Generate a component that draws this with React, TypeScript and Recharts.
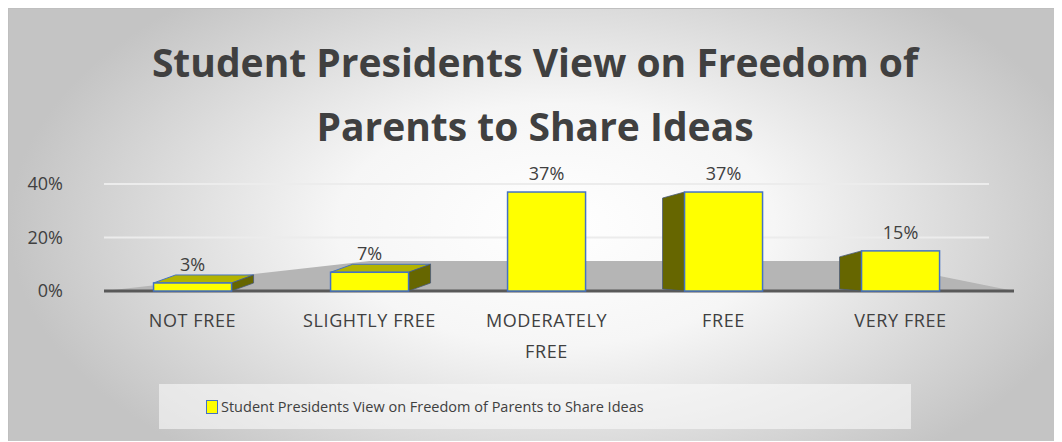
import React from 'react';
import { BarChart, Bar, XAxis, YAxis, CartesianGrid, LabelList, Legend, Customized, usePlotArea } from 'recharts';

const categories = ['NOT FREE', 'SLIGHTLY FREE', 'MODERATELY FREE', 'FREE', 'VERY FREE'];
const values = [3, 7, 37, 37, 15];
const yTicks = [0, 20, 40];
const seriesName = 'Student Presidents View on Freedom of Parents to Share Ideas';

const data = categories.map((name, i) => ({ name, value: values[i] }));

const TEXT = '#404040';
const FONT = '"Open Sans", "Liberation Sans", sans-serif';

// fake 3d box: front face + a darker side
const Box3D = (props: any) => {
    const { x, y, width, height, index } = props;
    if (!height || height <= 0) return null;
    const mid = Math.floor(values.length / 2);
    let side: string | null = null;
    let top: string | null = null;
    if (index < mid) {
        const dx = 22, dy = 8;
        top = `${x},${y} ${x + dx},${y - dy} ${x + width + dx},${y - dy} ${x + width},${y}`;
        side = `${x + width},${y} ${x + width + dx},${y - dy} ${x + width + dx},${y + height - dy} ${x + width},${y + height}`;
    } else if (index > mid) {
        const dx = 22, dy = 6;
        side = `${x},${y} ${x - dx},${y + dy} ${x - dx},${y + height - 2} ${x},${y + height}`;
    }
    return (
        <g>
            {top && <polygon points={top} fill="#b3b300" stroke="#4472c4" strokeWidth={1} />}
            {side && <polygon points={side} fill="#666600" stroke="#4a5a7a" strokeWidth={0.8} />}
            <rect x={x} y={y} width={width} height={height} fill="#ffff00" stroke="#4472c4" strokeWidth={1.5} />
        </g>
    );
};

// grey floor under the bars + the base line
const Floor = (props: any) => {
    const area = typeof usePlotArea === 'function' ? usePlotArea() : null;
    const off = area || props.offset;
    if (!off) return null;
    const l = off.x ?? off.left, w = off.width;
    const r = l + w + 25, b = (off.y ?? off.top) + off.height;
    const pts = `${l},${b} ${l + w * 0.3},${b - 30} ${l + w * 0.86},${b - 30} ${r},${b}`;
    return (
        <g>
            <polygon points={pts} fill="#b5b5b5" />
            <line x1={l} x2={r} y1={b} y2={b} stroke="#595959" strokeWidth={3} />
        </g>
    );
};

const XTick = (props: any) => {
    const { x, y, payload } = props;
    const words = String(payload.value).split(' ');
    const lines = payload.value.length > 14 ? words : [payload.value];
    return (
        <text x={x} y={y} textAnchor="middle" fill={TEXT} fontSize={18} letterSpacing={0.6} fontFamily={FONT}>
            {lines.map((l: string, i: number) => (
                <tspan key={i} x={x} dy={i === 0 ? 22 : 31}>{l}</tspan>
            ))}
        </text>
    );
};

const LegendBox = () => (
    <div style={{ width: 752, height: 45, background: 'rgba(250,250,250,0.6)', display: 'flex', alignItems: 'center', paddingLeft: 47, boxSizing: 'border-box', fontFamily: FONT, fontSize: 14.5, color: TEXT }}>
        <span style={{ display: 'inline-block', width: 10, height: 12, background: '#ffff00', border: '1.5px solid #4472c4', marginRight: 3 }} />
        {seriesName}
    </div>
);

export default function App() {
    return (
        <div style={{ position: 'relative', width: 1052, height: 432, border: '1px solid #bfbfbf', borderBottom: 'none', borderRight: 'none', background: 'radial-gradient(ellipse 52% 70% at 52% 50%, #ffffff 0%, #f6f6f6 40%, #c4c4c4 100%)', overflow: 'hidden' }}>
            <div style={{ position: 'absolute', left: 0, top: 21, width: 1052, textAlign: 'center', fontFamily: FONT, fontWeight: 700, fontSize: 39, lineHeight: '64px', color: TEXT }}>
                Student Presidents View on Freedom of<br />Parents to Share Ideas
            </div>
            <BarChart width={1052} height={432} data={data} margin={{ top: 175, right: 72, bottom: 45, left: 0 }} barCategoryGap="28%">
                <Customized component={Floor} />
                <CartesianGrid vertical={false} horizontal={true} stroke="#ececec" strokeWidth={2} />
                <XAxis dataKey="name" axisLine={false} tickLine={false} tick={<XTick />} interval={0} height={60} tickMargin={8} />
                <YAxis domain={[0, 40]} ticks={yTicks} tickFormatter={(v: number) => `${v}%`} axisLine={false} tickLine={false} width={95} tickMargin={35} tick={{ fill: TEXT, fontSize: 18, fontFamily: FONT }} />
                <Legend verticalAlign="bottom" content={<LegendBox />} wrapperStyle={{ left: 150, width: 752, bottom: 12 }} />
                <Bar dataKey="value" name={seriesName} shape={<Box3D />} isAnimationActive={false}>
                    <LabelList dataKey="value" position="top" offset={12} formatter={(v: number) => `${v}%`} fill={TEXT} fontSize={18} fontFamily={FONT} />
                </Bar>
            </BarChart>
        </div>
    );
}
